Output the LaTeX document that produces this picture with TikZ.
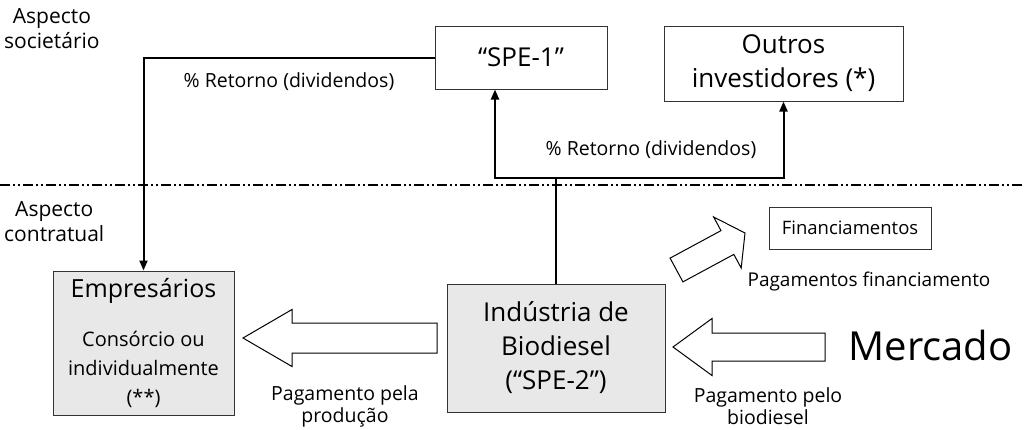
\documentclass[tikz,border=0pt]{standalone}
\usepackage{fontspec}
\setmainfont{Open Sans}
\usetikzlibrary{arrows.meta,calc}
\tikzset{
    box/.style={draw=black!80, line width=1pt, inner sep=0, align=center},
    shaded/.style={box, fill=black!9},
    flow/.style={line width=2pt, -{Triangle[length=10pt,width=8pt]}},
    trunk/.style={line width=2pt},
    divider/.style={line width=2pt, dash pattern=on 10pt off 3pt on 2pt off 3pt on 2pt off 3pt},
    fat/.style={draw=black, line width=1pt, fill=white, line join=miter},
    lbl/.style={inner sep=0, align=center},
    big/.style={font=\fontsize{26}{34}\selectfont},
    mid/.style={font=\fontsize{21}{25}\selectfont},
    small/.style={font=\fontsize{19.5}{22}\selectfont}
}
% #1 tail, #2 tip, #3 half shaft, #4 half head, #5 head length
\newcommand{\fatarrow}[5]{
    \coordinate (fatneck) at ($(#2)!#5!(#1)$);
    \draw[fat] ($(#1)!#3!90:(#2)$) -- ($(fatneck)!#3!-90:(#1)$) -- ($(fatneck)!#4!-90:(#1)$)
        -- (#2) -- ($(fatneck)!#4!90:(#1)$) -- ($(fatneck)!#3!90:(#1)$) -- ($(#1)!#3!-90:(#2)$) -- cycle;
}

\begin{document}
\begin{tikzpicture}[x=1pt, y=-1pt]
    \useasboundingbox (0,0) rectangle (1024,429);

    \coordinate (divl) at (0,185);
    \coordinate (divr) at (1024,185);
    \draw[divider] (divl) -- (divr);

    \node[lbl, mid, anchor=north west] (soc) at (4,8) {Aspecto\\societário};
    \node[lbl, mid, anchor=north west] (con) at (4,201) {Aspecto\\contratual};

    \node[box, big, minimum width=172, minimum height=63] (spe1) at (521,57.5) {“SPE-1”};
    \node[box, big, minimum width=239, minimum height=75] (out) at (783.5,63.5) {Outros\\investidores (*)};
    \node[box, font=\fontsize{18.5}{22}\selectfont, minimum width=162, minimum height=42] (fin) at (850,228) {Financiamentos};
    \node[shaded, font=\fontsize{20}{29}\selectfont, minimum width=181, minimum height=144] (emp) at (143.5,343)
        {{\fontsize{25}{30}\selectfont Empresários}\\[20pt]Consórcio ou\\individualmente\\(**)};
    \node[shaded, big, minimum width=218, minimum height=128] (ind) at (556,348) {Indústria de\\Biodiesel\\(“SPE-2”)};
    \node[lbl, font=\fontsize{40}{48}\selectfont] (merc) at (930.5,345) {Mercado};

    \node[lbl, small] (ret1) at (289,82) {\% Retorno (dividendos)};
    \node[lbl, small] (ret2) at (651,150) {\% Retorno (dividendos)};
    \node[lbl, small] (pagprod) at (345,406) {Pagamento pela\\produção};
    \node[lbl, small] (pagbio) at (768,406) {Pagamento pelo\\biodiesel};
    \node[lbl, font=\fontsize{19}{22}\selectfont] (pagfin) at (869,282) {Pagamentos financiamento};

    \draw[flow] (spe1.west) -| (emp.north);
    \coordinate (split) at (ind.north |- 0,178);
    \draw[trunk] (ind.north) -- (split);
    \draw[flow] (split) -| ([xshift=-26pt]spe1.south);
    \draw[flow] (split) -| (out.south);

    \coordinate (pp-tail) at (437,338);
    \coordinate (pp-tip) at (243,338);
    \coordinate (pb-tail) at (825,347);
    \coordinate (pb-tip) at (673,347);
    \coordinate (pf-tail) at (676.5,270);
    \coordinate (pf-tip) at (745,233);
    \fatarrow{pp-tail}{pp-tip}{15pt}{28.5pt}{49pt}
    \fatarrow{pb-tail}{pb-tip}{14pt}{28.5pt}{39pt}
    \fatarrow{pf-tail}{pf-tip}{13.5pt}{29pt}{20pt}
\end{tikzpicture}
\end{document}
